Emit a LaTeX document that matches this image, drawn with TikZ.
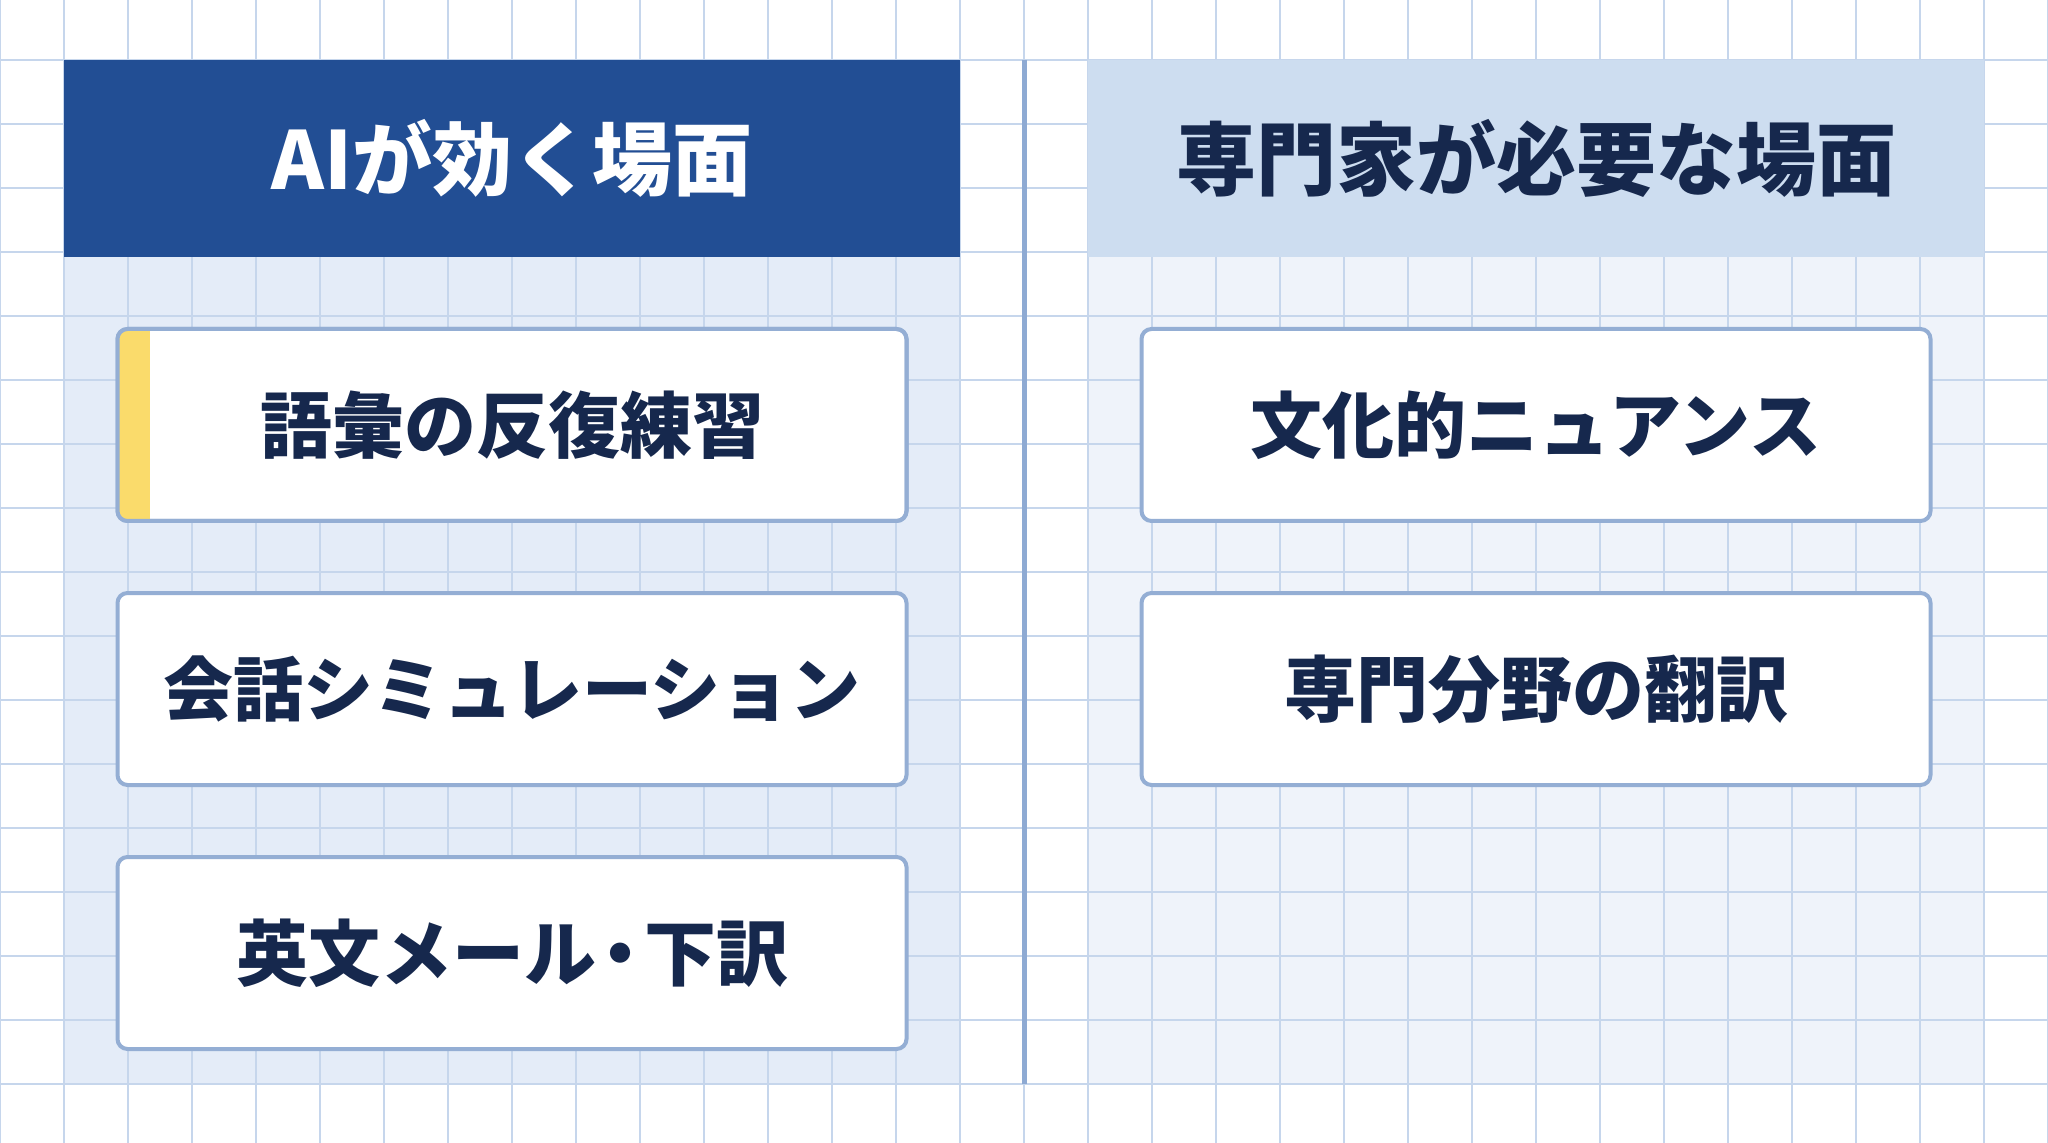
\documentclass[tikz,border=0pt]{standalone}
\usepackage{fontspec}
\newfontfamily\jpfont{Noto Sans CJK JP}
\usetikzlibrary{positioning}

\definecolor{headdark}{HTML}{224E94}
\definecolor{headlight}{HTML}{CDDDF0}
\definecolor{panelleft}{HTML}{E4ECF8}
\definecolor{panelright}{HTML}{EFF3FA}
\definecolor{gridblue}{HTML}{C6D6EC}
\definecolor{boxline}{HTML}{94AED4}
\definecolor{divline}{HTML}{8EAAD3}
\definecolor{accent}{HTML}{FADB6B}
\definecolor{ink}{HTML}{16284D}

\begin{document}
\begin{tikzpicture}[x=0.5pt,y=-0.5pt,
  gridline/.style={draw=gridblue,line width=1pt},
  head/.style={minimum width=448pt,minimum height=98.5pt,inner sep=0pt,outer sep=0pt,
    font=\jpfont\bfseries\fontsize{40}{48}\selectfont},
  item/.style={draw=boxline,line width=2pt,fill=white,rounded corners=5pt,
    minimum width=394.5pt,minimum height=96pt,inner sep=0pt,outer sep=0pt,
    text=ink,font=\jpfont\bfseries\fontsize{36}{44}\selectfont}]
  \useasboundingbox (0,0) rectangle (2048,1143);
  \fill[white] (0,0) rectangle (2048,1143);
  % panels
  \fill[panelleft] (64,60) rectangle (960,1084);
  \fill[panelright] (1088,60) rectangle (1984,1084);
  % grid
  \foreach \x in {0,64,...,2048}
    \draw[gridline] (\x,0) -- (\x,1143);
  \foreach \y in {60,124,...,1143}
    \draw[gridline] (0,\y) -- (2048,\y);
  % headers
  \node[head,fill=headdark,text=white] (hdai) at (512,158.5) {AIが効く場面};
  \node[head,fill=headlight,text=ink] (hdpro) at (1536,158.5) {専門家が必要な場面};
  % divider
  \coordinate (divtop) at (1024,60);
  \coordinate (divbot) at (1024,1084);
  \draw[divline,line width=2.5pt] (divtop) -- (divbot);
  % left column
  \node[item,below=36pt of hdai] (vocab) {語彙の反復練習};
  \node[item,below=36pt of vocab] (talk) {\fontsize{35}{44}\selectfont 会話シミュレーション};
  \node[item,below=36pt of talk] (mail) {英文メール\kern-6pt・\kern-6pt下訳};
  \begin{scope}
    \clip[rounded corners=5pt] (vocab.south west) rectangle (vocab.north east);
    \fill[accent] (vocab.south west) rectangle ([xshift=16pt]vocab.north west);
  \end{scope}
  \draw[boxline,line width=2pt,rounded corners=5pt] (vocab.south west) rectangle (vocab.north east);
  % right column
  \node[item,below=36pt of hdpro] (nuance) {文化的ニュアンス};
  \node[item,below=36pt of nuance] (field) {専門分野の翻訳};
\end{tikzpicture}
\end{document}
